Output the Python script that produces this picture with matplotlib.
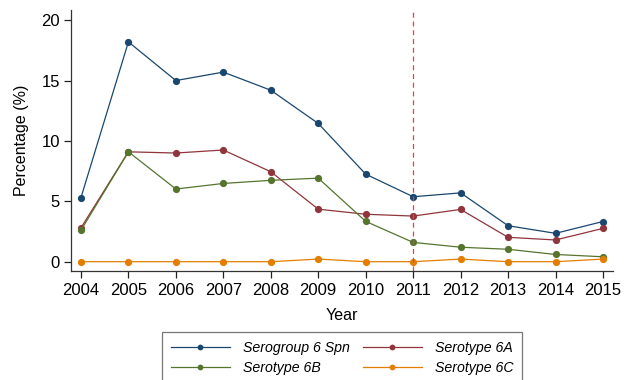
import matplotlib.pyplot as plt

plt.rcParams['font.family'] = ['Liberation Sans', 'DejaVu Sans']

# Yearly share of serogroup 6 pneumococci
years = [2004, 2005, 2006, 2007, 2008, 2009, 2010, 2011, 2012, 2013, 2014, 2015]
sero6 = [5.3, 18.2, 15.0, 15.7, 14.2, 11.45, 7.25, 5.38, 5.7, 2.98, 2.35, 3.33]
type6a = [2.8, 9.1, 9.0, 9.25, 7.45, 4.35, 3.93, 3.78, 4.33, 2.02, 1.8, 2.76]
type6b = [2.6, 9.1, 6.02, 6.48, 6.74, 6.92, 3.34, 1.6, 1.2, 1.03, 0.6, 0.41]
type6c = [0, 0, 0, 0, 0, 0.22, 0, 0, 0.22, 0, 0, 0.22]
pcv_year = 2011

series = [
    (sero6, "#1a476f", "Serogroup 6 Spn"),
    (type6a, "#90353b", "Serotype 6A"),
    (type6b, "#55752f", "Serotype 6B"),
    (type6c, "#e37e00", "Serotype 6C"),
]

fig = plt.figure(figsize=(6.27, 3.80), dpi=100)
ax = fig.add_axes([0.1132, 0.2868, 0.8644, 0.6868])

lines = []
for vals, col, name in series:
    ln, = ax.plot(years, vals, color=col, lw=0.9, marker="o", ms=5.2,
                  markeredgewidth=0, label=name)
    lines.append(ln)

ax.axvline(pcv_year, color="#e0424a", lw=0.9, ls=(0, (4, 3)))

ax.set_xlim(2003.79, 2015.21)
ax.set_ylim(-0.77, 20.84)
ax.set_xticks(years)
ax.set_yticks([0, 5, 10, 15, 20])
ax.tick_params(direction="out", length=5, width=0.9, labelsize=12,
               colors="#222222", labelcolor="black")
ax.tick_params(axis="y", pad=3)
for s in ["top", "right"]:
    ax.spines[s].set_visible(False)
for s in ["left", "bottom"]:
    ax.spines[s].set_linewidth(0.9)
    ax.spines[s].set_color("#333333")

ax.set_xlabel("Year", fontsize=11.5, labelpad=7)
ax.set_ylabel("Percentage (%)", fontsize=11.5, labelpad=9)

# two columns filled top-down: Spn, 6B | 6A, 6C
order = [0, 2, 1, 3]
leg = fig.legend([lines[i] for i in order], [series[i][2] for i in order],
                 loc="upper left", bbox_to_anchor=(0.2584, 0.1263), ncol=2,
                 borderaxespad=0, handlelength=4.15, handletextpad=0.92,
                 columnspacing=0.95, borderpad=0.62, labelspacing=0.45,
                 markerscale=0.8, fancybox=False,
                 prop={"style": "italic", "size": 10.2})
leg.get_frame().set_edgecolor("#555555")
leg.get_frame().set_linewidth(0.9)

fig.savefig("out.png", dpi=100)
